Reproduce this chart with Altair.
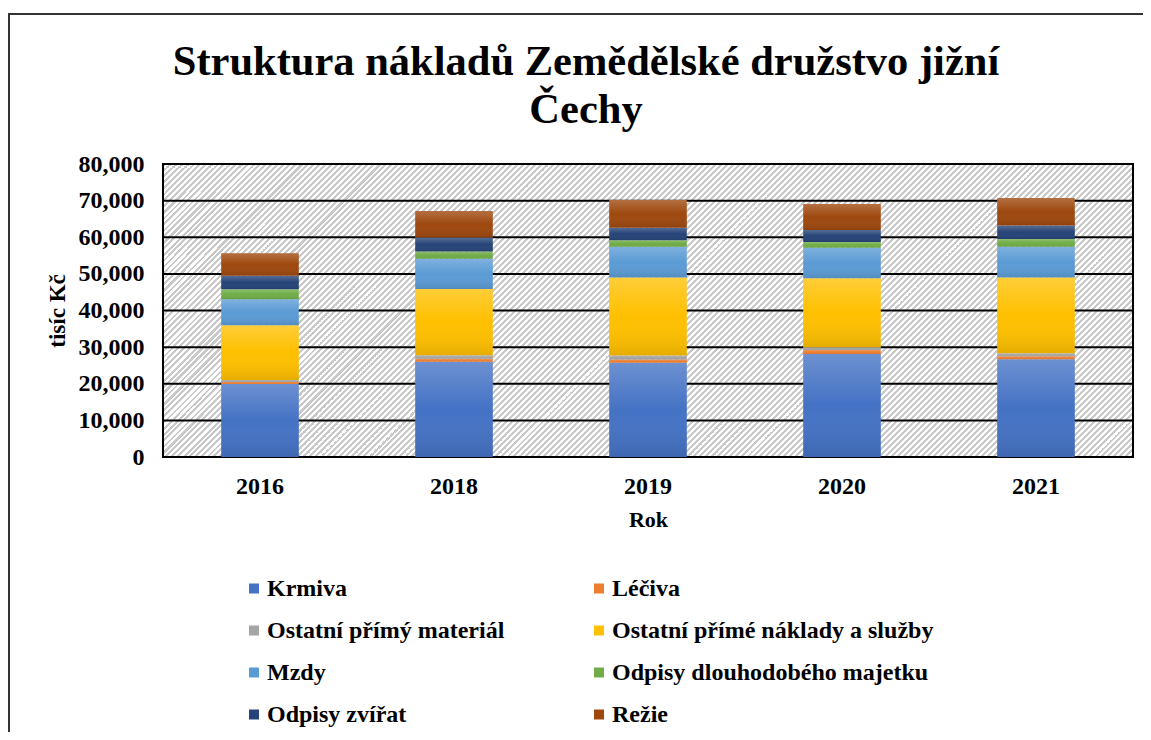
import altair as alt
import pandas as pd

# ---------------- data ----------------
years = ["2016", "2018", "2019", "2020", "2021"]
series = [
    "Krmiva",
    "Léčiva",
    "Ostatní přímý materiál",
    "Ostatní přímé náklady a služby",
    "Mzdy",
    "Odpisy dlouhodobého majetku",
    "Odpisy zvířat",
    "Režie",
]
krmiva = [19900, 26000, 25700, 28100, 26700]
leciva = [600, 800, 900, 1100, 800]
ostatni_material = [500, 1000, 1100, 800, 800]
ostatni_naklady = [15000, 18100, 21300, 18800, 20700]
mzdy = [7100, 8200, 8400, 8300, 8400]
odpisy_majetku = [2700, 2000, 1800, 1600, 2100]
odpisy_zvirat = [3700, 3800, 3400, 3300, 3700]
rezie = [6100, 7300, 7600, 7100, 7500]
y_ticks = [0, 10000, 20000, 30000, 40000, 50000, 60000, 70000, 80000]

colors = ["#4472c4", "#ed7d31", "#a5a5a5", "#ffc000",
          "#5b9bd5", "#70ad47", "#264478", "#9e480e"]

values = [krmiva, leciva, ostatni_material, ostatni_naklady,
          mzdy, odpisy_majetku, odpisy_zvirat, rezie]

rows = []
for si, (name, vals) in enumerate(zip(series, values)):
    for yr, v in zip(years, vals):
        rows.append({"Rok": yr, "Položka": name, "Hodnota": v, "poradi": si})
df = pd.DataFrame(rows)

# ---------------- styling ----------------
W, H = 970, 293
FONT = "Liberation Serif"

# diagonal hatch as a striped linear gradient
period, gray_w = 6.0, 3.0
span = W + H
stops = []
k = 0
while k * period < span:
    t0 = k * period / span
    t1 = min((k * period + gray_w) / span, 1.0)
    t2 = min((k + 1) * period / span, 1.0)
    stops += [
        {"offset": t0, "color": "#c9c9c9"},
        {"offset": t1, "color": "#c9c9c9"},
        {"offset": t1, "color": "#ffffff"},
        {"offset": t2, "color": "#ffffff"},
    ]
    k += 1
a = span / (W * W + H * H)
hatch = {"gradient": "linear", "x1": 0, "y1": 0, "x2": W * a, "y2": H * a, "stops": stops}

shade = {
    "gradient": "linear", "x1": 0, "y1": 0, "x2": 0, "y2": 1,
    "stops": [
        {"offset": 0, "color": "rgba(255,255,255,0.22)"},
        {"offset": 0.5, "color": "rgba(255,255,255,0)"},
        {"offset": 1, "color": "rgba(0,0,0,0.10)"},
    ],
}

y_scale = alt.Scale(domain=[0, 80000], nice=False)
y_axis = alt.Axis(values=y_ticks, format=",d", grid=False, domain=False, ticks=False,
                  tickSize=0, labelPadding=19, titlePadding=9)
x_enc = alt.X("Rok:N", sort=years, title="Rok",
              scale=alt.Scale(paddingInner=0.6, paddingOuter=0.3),
              axis=alt.Axis(labelAngle=0, domain=False, ticks=False, tickSize=0,
                            labelPadding=17, titlePadding=11, titleFontSize=22))

one = pd.DataFrame({"a": [0]})

frame = alt.Chart(one).mark_rect(fillOpacity=0, stroke="#333333", strokeWidth=2).encode(
    x=alt.value(-154), x2=alt.value(1010), y=alt.value(-150), y2=alt.value(620)
)

bg = alt.Chart(one).mark_rect(fill=hatch, stroke="black", strokeWidth=2).encode(
    x=alt.value(0), x2=alt.value(W), y=alt.value(0), y2=alt.value(H)
)

grid = alt.Chart(pd.DataFrame({"v": y_ticks})).mark_rule(color="black", strokeWidth=2).encode(
    y=alt.Y("v:Q", scale=y_scale, axis=y_axis, title="tisíc Kč")
)

bars = alt.Chart(df).mark_bar().encode(
    x=x_enc,
    y=alt.Y("Hodnota:Q", stack="zero", scale=y_scale, axis=y_axis, title="tisíc Kč"),
    color=alt.Color("Položka:N", scale=alt.Scale(domain=series, range=colors),
                    legend=alt.Legend(title=None, orient="none", legendX=79, legendY=412.5,
                                      direction="horizontal",
                                      columns=2, symbolType="square", symbolSize=100,
                                      symbolStrokeWidth=0, labelOffset=1,
                                      rowPadding=18, columnPadding=82, labelLimit=500)),
    order=alt.Order("poradi:Q", sort="ascending"),
)

shading = alt.Chart(df).mark_bar(fill=shade).encode(
    x=x_enc,
    y=alt.Y("Hodnota:Q", stack="zero", scale=y_scale, axis=y_axis, title="tisíc Kč"),
    detail="Položka:N",
    order=alt.Order("poradi:Q", sort="ascending"),
)

chart = alt.layer(frame, bg, grid, bars, shading).properties(
    width=W,
    height=H,
    title=alt.Title(
        text=["Struktura nákladů Zemědělské družstvo jižní", "Čechy"],
        font=FONT, fontSize=42.5, fontWeight="bold", color="black",
        anchor="middle", frame="group", dx=-62, offset=-118, lineHeight=48,
    ),
    autosize=alt.AutoSizeParams(type="none"),
    padding={"left": 155, "top": 156, "right": 10, "bottom": 275},
).configure_view(
    stroke=None
).configure_axis(
    labelFont=FONT, labelFontSize=24, labelFontWeight="bold", labelColor="black",
    titleFont=FONT, titleFontSize=23, titleFontWeight="bold", titleColor="black",
).configure_legend(
    labelFont=FONT, labelFontSize=24, labelFontWeight="bold", labelColor="black",
)

chart.save("out.html", embed_options={"renderer": "svg", "actions": False})
